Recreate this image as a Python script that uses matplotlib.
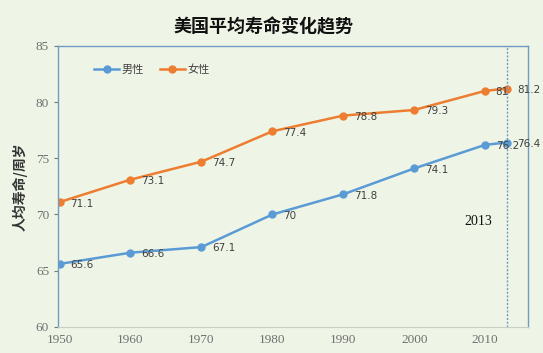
import matplotlib.pyplot as plt

plt.rcParams['font.family'] = ['Noto Sans CJK SC', 'DejaVu Sans']

years = [1950, 1960, 1970, 1980, 1990, 2000, 2010, 2013]
male = [65.6, 66.6, 67.1, 70, 71.8, 74.1, 76.2, 76.4]
female = [71.1, 73.1, 74.7, 77.4, 78.8, 79.3, 81, 81.2]
male_labels = ['65.6', '66.6', '67.1', '70', '71.8', '74.1', '76.2', '76.4']
female_labels = ['71.1', '73.1', '74.7', '77.4', '78.8', '79.3', '81', '81.2']
x_ticks = [1950, 1960, 1970, 1980, 1990, 2000, 2010]
y_ticks = [60, 65, 70, 75, 80, 85]

bg = '#eef5e6'
blue = '#5b9bd5'
orange = '#ed7d31'
axis_blue = '#6f9cc4'

fig = plt.figure(figsize=(5.43, 3.53), dpi=100, facecolor=bg)
ax = fig.add_axes([0.107, 0.074, 0.865, 0.796], facecolor=bg)

ax.plot(years, male, color=blue, lw=1.8, marker='o', ms=5, label='男性')
ax.plot(years, female, color=orange, lw=1.8, marker='o', ms=5, label='女性')

# data labels, right of each point
for x, y, t in zip(years, male, male_labels):
    ax.annotate(t, (x, y), xytext=(7.5, -1), textcoords='offset points',
                fontsize=7.5, color='#404040', va='center', ha='left',
                family=['DejaVu Sans'])
for x, y, t in zip(years, female, female_labels):
    ax.annotate(t, (x, y), xytext=(7.5, -1), textcoords='offset points',
                fontsize=7.5, color='#404040', va='center', ha='left',
                family=['DejaVu Sans'])

ax.axvline(2013, color=axis_blue, lw=1.0, ls=(0, (1.5, 1.2)))
ax.text(2011, 69.4, '2013', fontsize=10, ha='right', va='center',
        family=['Liberation Serif'], color='#111111')

ax.set_xlim(1949.8, 2016)
ax.set_ylim(60, 85)
ax.set_xticks(x_ticks)
ax.set_yticks(y_ticks)
ax.tick_params(axis='both', labelsize=9.5, colors='#777777', length=3)
ax.tick_params(axis='x', length=0, pad=5)
for lab in ax.get_xticklabels() + ax.get_yticklabels():
    lab.set_family('Liberation Serif')
    lab.set_color('#707070')

for s in ['left', 'top', 'right']:
    ax.spines[s].set_color(axis_blue)
    ax.spines[s].set_linewidth(1.0)
ax.spines['bottom'].set_color('#c8cfc4')
ax.spines['bottom'].set_linewidth(0.8)

ax.set_ylabel('人均寿命/周岁', fontsize=10, fontweight='bold', color='#333333', labelpad=6)
fig.suptitle('美国平均寿命变化趋势', fontsize=13, fontweight='bold', y=0.95, x=0.485, color='#111111')

ax.legend(loc='upper left', bbox_to_anchor=(0.055, 0.97), ncol=2, frameon=False,
          fontsize=8, handlelength=2.3, columnspacing=1.4, labelcolor='#444444',
          handletextpad=0.2)

fig.savefig('out.png', dpi=100, facecolor=bg)
